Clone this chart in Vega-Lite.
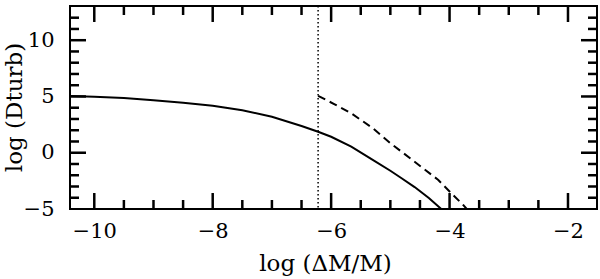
{
  "$schema": "https://vega.github.io/schema/vega-lite/v6.json",
  "width": 527,
  "height": 203,
  "autosize": {"type": "none"},
  "padding": {"left": 70, "top": 6, "right": 2, "bottom": 68},
  "background": "white",
  "config": {
    "view": {"stroke": "black", "strokeWidth": 2},
    "axis": {
      "domain": false,
      "ticks": false,
      "labelColor": "black",
      "titleColor": "black",
      "labelFont": "DejaVu Serif",
      "titleFont": "DejaVu Serif",
      "labelFontSize": 21,
      "titleFontSize": 23,
      "titleFontWeight": "normal",
      "grid": false,
      "labelOverlap": false,
      "labelFlush": false
    }
  },
  "datasets": {
    "solid": [
      {"logdm": -10.41, "logd": 5.05},
      {"logdm": -10.0, "logd": 4.98},
      {"logdm": -9.5, "logd": 4.86},
      {"logdm": -9.0, "logd": 4.67},
      {"logdm": -8.5, "logd": 4.44},
      {"logdm": -8.0, "logd": 4.17},
      {"logdm": -7.5, "logd": 3.78},
      {"logdm": -7.0, "logd": 3.2},
      {"logdm": -6.5, "logd": 2.38},
      {"logdm": -6.22, "logd": 1.86},
      {"logdm": -6.0, "logd": 1.42},
      {"logdm": -5.66, "logd": 0.55},
      {"logdm": -5.27, "logd": -0.72},
      {"logdm": -5.0, "logd": -1.6},
      {"logdm": -4.81, "logd": -2.27},
      {"logdm": -4.59, "logd": -3.05},
      {"logdm": -4.35, "logd": -4.02},
      {"logdm": -4.14, "logd": -5.0}
    ],
    "dashed": [
      {"logdm": -6.22, "logd": 5.06},
      {"logdm": -5.94, "logd": 4.3},
      {"logdm": -5.66, "logd": 3.5},
      {"logdm": -5.3, "logd": 2.2},
      {"logdm": -5.0, "logd": 0.85},
      {"logdm": -4.81, "logd": 0.09},
      {"logdm": -4.59, "logd": -0.8},
      {"logdm": -4.19, "logd": -2.42},
      {"logdm": -3.97, "logd": -3.6},
      {"logdm": -3.77, "logd": -4.64},
      {"logdm": -3.71, "logd": -5.0}
    ],
    "boundary": [
      {"logdm": -6.22}
    ],
    "xmajor": [{"v": -10}, {"v": -8}, {"v": -6}, {"v": -4}, {"v": -2}],
    "xminor": [
      {"v": -9.5}, {"v": -9}, {"v": -8.5}, {"v": -7.5}, {"v": -7}, {"v": -6.5},
      {"v": -5.5}, {"v": -5}, {"v": -4.5}, {"v": -3.5}, {"v": -3}, {"v": -2.5}
    ],
    "ymajor": [{"v": 0}, {"v": 5}, {"v": 10}],
    "yminor": [
      {"v": -4}, {"v": -3}, {"v": -2}, {"v": -1}, {"v": 1}, {"v": 2}, {"v": 3},
      {"v": 4}, {"v": 6}, {"v": 7}, {"v": 8}, {"v": 9}, {"v": 11}, {"v": 12}
    ]
  },
  "layer": [
    {
      "data": {"name": "solid"},
      "mark": {"type": "line", "color": "black", "strokeWidth": 2, "clip": true},
      "encoding": {
        "x": {
          "field": "logdm", "type": "quantitative",
          "scale": {"domain": [-10.41, -1.51], "nice": false, "zero": false},
          "axis": {
            "orient": "bottom",
            "title": "log (ΔM/M)",
            "titleX": 255,
            "titleY": 61,
            "titleBaseline": "alphabetic",
            "titleAlign": "center",
            "values": [-10, -8, -6, -4, -2],
            "format": "d",
            "labelPadding": 11
          }
        },
        "y": {
          "field": "logd", "type": "quantitative",
          "scale": {"domain": [-5, 13.04], "nice": false, "zero": false},
          "axis": {
            "orient": "left",
            "title": "log (Dturb)",
            "titleX": -49,
            "titleY": 101,
            "titleBaseline": "alphabetic",
            "titleAlign": "center",
            "titleAngle": -90,
            "values": [-5, 0, 5, 10],
            "format": "d",
            "labelPadding": 16
          }
        }
      }
    },
    {
      "data": {"name": "dashed"},
      "mark": {"type": "line", "color": "black", "strokeWidth": 2, "strokeDash": [8, 5], "clip": true},
      "encoding": {
        "x": {"field": "logdm", "type": "quantitative", "axis": null},
        "y": {"field": "logd", "type": "quantitative", "axis": null}
      }
    },
    {
      "data": {"name": "boundary"},
      "mark": {"type": "rule", "color": "black", "strokeWidth": 1.5, "strokeDash": [1.5, 2.5]},
      "encoding": {
        "x": {"field": "logdm", "type": "quantitative", "axis": null}
      }
    },
    {
      "data": {"name": "xmajor"},
      "mark": {"type": "rule", "color": "black", "strokeWidth": 2.5},
      "encoding": {
        "x": {"field": "v", "type": "quantitative", "axis": null},
        "y": {"datum": -5, "type": "quantitative", "axis": null},
        "y2": {"datum": -3.58}
      }
    },
    {
      "data": {"name": "xminor"},
      "mark": {"type": "rule", "color": "black", "strokeWidth": 2.5},
      "encoding": {
        "x": {"field": "v", "type": "quantitative", "axis": null},
        "y": {"datum": -5, "type": "quantitative", "axis": null},
        "y2": {"datum": -4.2}
      }
    },
    {
      "data": {"name": "xmajor"},
      "mark": {"type": "rule", "color": "black", "strokeWidth": 2.5},
      "encoding": {
        "x": {"field": "v", "type": "quantitative", "axis": null},
        "y": {"datum": 13.04, "type": "quantitative", "axis": null},
        "y2": {"datum": 11.62}
      }
    },
    {
      "data": {"name": "xminor"},
      "mark": {"type": "rule", "color": "black", "strokeWidth": 2.5},
      "encoding": {
        "x": {"field": "v", "type": "quantitative", "axis": null},
        "y": {"datum": 13.04, "type": "quantitative", "axis": null},
        "y2": {"datum": 12.24}
      }
    },
    {
      "data": {"name": "ymajor"},
      "mark": {"type": "rule", "color": "black", "strokeWidth": 2.5},
      "encoding": {
        "y": {"field": "v", "type": "quantitative", "axis": null},
        "x": {"datum": -10.41, "type": "quantitative", "axis": null},
        "x2": {"datum": -10.14}
      }
    },
    {
      "data": {"name": "yminor"},
      "mark": {"type": "rule", "color": "black", "strokeWidth": 2.5},
      "encoding": {
        "y": {"field": "v", "type": "quantitative", "axis": null},
        "x": {"datum": -10.41, "type": "quantitative", "axis": null},
        "x2": {"datum": -10.258}
      }
    },
    {
      "data": {"name": "ymajor"},
      "mark": {"type": "rule", "color": "black", "strokeWidth": 2.5},
      "encoding": {
        "y": {"field": "v", "type": "quantitative", "axis": null},
        "x": {"datum": -1.51, "type": "quantitative", "axis": null},
        "x2": {"datum": -1.78}
      }
    },
    {
      "data": {"name": "yminor"},
      "mark": {"type": "rule", "color": "black", "strokeWidth": 2.5},
      "encoding": {
        "y": {"field": "v", "type": "quantitative", "axis": null},
        "x": {"datum": -1.51, "type": "quantitative", "axis": null},
        "x2": {"datum": -1.662}
      }
    }
  ],
  "resolve": {"axis": {"x": "independent", "y": "independent"}}
}
